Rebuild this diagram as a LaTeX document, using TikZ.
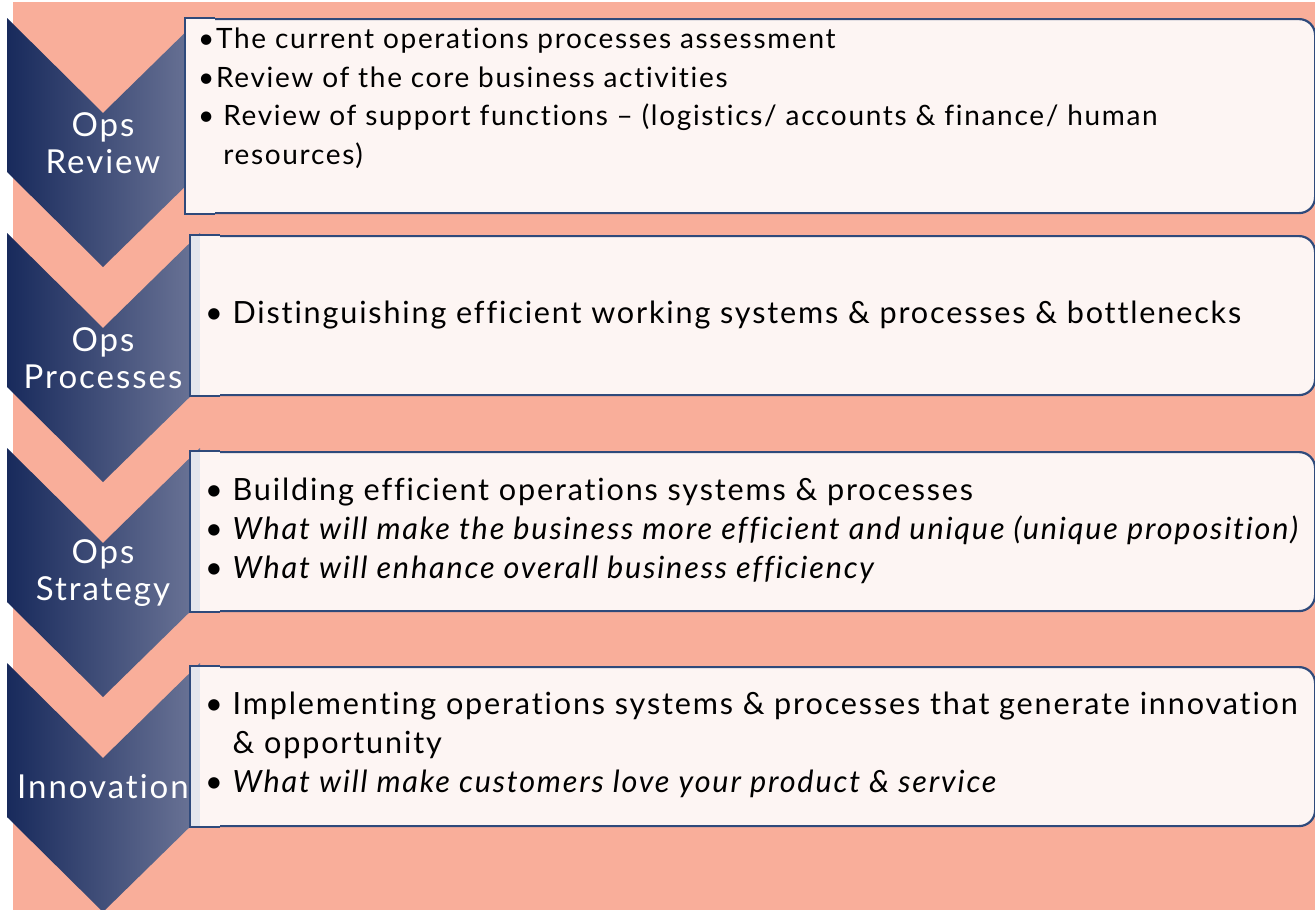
\documentclass[tikz,border=0pt]{standalone}
\usepackage{fontspec}
\setmainfont{Lato}[LetterSpace=6, Ligatures=NoCommon]
\usetikzlibrary{positioning}

\definecolor{salmon}{HTML}{F9AE9A}
\definecolor{boxfill}{HTML}{FDF5F3}
\definecolor{boxline}{HTML}{2F4A7B}
\definecolor{navydark}{HTML}{182A5C}
\definecolor{navylight}{HTML}{6C7597}
\definecolor{strip}{HTML}{E4E6EC}

\tikzset{
  chevron/.style={left color=navydark, right color=navylight, draw=none},
  chevlabel/.style={text=white, align=center, font=\fontsize{33}{37}\selectfont},
  opsbox/.style={draw=boxline, line width=2.2pt, fill=boxfill, rounded corners=16pt, anchor=north west, inner sep=0pt},
  opstext/.style={anchor=west, align=left, inner sep=0pt, font=\fontsize{30.6}{39}\selectfont},
}
\newcommand{\bul}{\textbullet\ }

\begin{document}
\begin{tikzpicture}[x=1pt, y=-1pt]
  \useasboundingbox (0,0) rectangle (1315,910);
  \fill[salmon] (13,2) rectangle (1315,910);

  % chevrons
  \path[chevron] (7,18) -- ++(96,95) -- ++(97,-95) -- ++(0,154) -- ++(-97,95) -- ++(-96,-95) -- cycle;
  \path[chevron] (7,233) -- ++(96,95) -- ++(97,-95) -- ++(0,154) -- ++(-97,95) -- ++(-96,-95) -- cycle;
  \path[chevron] (7,448) -- ++(96,95) -- ++(97,-95) -- ++(0,154) -- ++(-97,95) -- ++(-96,-95) -- cycle;
  \path[chevron] (7,663) -- ++(96,95) -- ++(97,-95) -- ++(0,154) -- ++(-97,95) -- ++(-96,-95) -- cycle;

  % boxes
  \node[opsbox, minimum width=1129pt, minimum height=194pt] (reviewbox) at (185,18) {};
  \node[opsbox, minimum width=1124pt, minimum height=159pt] (processbox) at (190,235) {};
  \node[opsbox, minimum width=1124pt, minimum height=159pt] (strategybox) at (190,451) {};
  \node[opsbox, minimum width=1124pt, minimum height=159pt] (innovbox) at (190,666) {};

  % square left corners and shaded strip
  \path[fill=boxfill, draw=boxline, line width=2.2pt] ([xshift=30pt]reviewbox.north west) -- (reviewbox.north west) -- (reviewbox.south west) -- ([xshift=30pt]reviewbox.south west);
  \path[fill=boxfill, draw=boxline, line width=2.2pt] ([xshift=30pt]processbox.north west) -- (processbox.north west) -- (processbox.south west) -- ([xshift=30pt]processbox.south west);
  \path[fill=boxfill, draw=boxline, line width=2.2pt] ([xshift=30pt]strategybox.north west) -- (strategybox.north west) -- (strategybox.south west) -- ([xshift=30pt]strategybox.south west);
  \path[fill=boxfill, draw=boxline, line width=2.2pt] ([xshift=30pt]innovbox.north west) -- (innovbox.north west) -- (innovbox.south west) -- ([xshift=30pt]innovbox.south west);
  \fill[strip] ([xshift=1.1pt,yshift=-1.1pt]processbox.north west) rectangle ([xshift=10pt,yshift=1.1pt]processbox.south west);
  \fill[strip] ([xshift=1.1pt,yshift=-1.1pt]strategybox.north west) rectangle ([xshift=10pt,yshift=1.1pt]strategybox.south west);
  \fill[strip] ([xshift=1.1pt,yshift=-1.1pt]innovbox.north west) rectangle ([xshift=10pt,yshift=1.1pt]innovbox.south west);

  % chevron labels
  \node[chevlabel] (reviewlabel) at (103,143) {Ops\\Review};
  \node[chevlabel] (processlabel) at (103,358) {Ops\\Processes};
  \node[chevlabel] (strategylabel) at (103,573) {Ops\\Strategy};
  \node[chevlabel] (innovlabel) at (103,787) {Innovation};

  % box texts
  \node[opstext, font=\fontsize{28}{38.5}\selectfont] (reviewtext) at (198,98) {\textbullet The current operations processes assessment\\
    \textbullet Review of the core business activities\\
    \textbullet\ Review of support functions -- (logistics/ accounts \& finance/ human\\
    \hphantom{\textbullet} resources)};
  \node[opstext] (processtext) at (205,315) {\bul Distinguishing efficient working systems \& processes \& bottlenecks};
  \node[opstext] (strategytext) at (205,531) {\bul Building efficient operations systems \& processes\\
    \bul\textit{What will make the business more efficient and unique (unique proposition)}\\
    \bul\textit{What will enhance overall business efficiency}};
  \node[opstext] (innovtext) at (205,745) {\bul Implementing operations systems \& processes that generate innovation\\
    \hphantom{\bul}\& opportunity\\
    \bul\textit{What will make customers love your product \& service}};
\end{tikzpicture}
\end{document}
